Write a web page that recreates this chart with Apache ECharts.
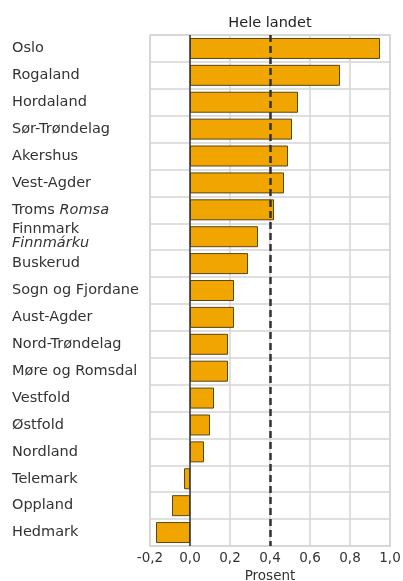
<!DOCTYPE html>
<html>
<head>
<meta charset="utf-8">
<script src="https://cdn.jsdelivr.net/npm/echarts@6/dist/echarts.min.js"></script>
<style>
html,body{margin:0;padding:0;background:#fff;}
#chart{width:403px;height:581px;}
</style>
</head>
<body>
<div id="chart"></div>
<script>
var categories = ["Oslo","Rogaland","Hordaland","Sør-Trøndelag","Akershus","Vest-Agder","Troms Romsa","Finnmark Finnmárku","Buskerud","Sogn og Fjordane","Aust-Agder","Nord-Trøndelag","Møre og Romsdal","Vestfold","Østfold","Nordland","Telemark","Oppland","Hedmark"];
var values = [0.95,0.75,0.54,0.51,0.49,0.47,0.42,0.34,0.29,0.22,0.22,0.19,0.19,0.12,0.10,0.07,-0.03,-0.09,-0.17];
var nationalValue = 0.4;
var nationalLabel = "Hele landet";
var axisName = "Prosent";

var labelMap = {
  "Troms Romsa": "Troms {i|Romsa}",
  "Finnmark Finnmárku": "Finnmark\n{i|Finnmárku}"
};

var chart = echarts.init(document.getElementById('chart'));
var font = "DejaVu Sans";
chart.setOption({
  animation: false,
  textStyle: {fontFamily: font},
  grid: {left: 150, right: 13, top: 35, bottom: 35, show: true, borderColor: '#d4d4d4', borderWidth: 1.5,
         containLabel: false, outerBoundsMode: 'none'},
  xAxis: {
    type: 'value', min: -0.2, max: 1.0, interval: 0.2,
    name: axisName, nameLocation: 'middle', nameGap: 19,
    nameTextStyle: {color: '#333', fontSize: 13.5, fontFamily: font},
    axisLine: {show: false}, axisTick: {show: false},
    axisLabel: {color: '#333', fontSize: 13.5, margin: 5, fontFamily: font,
      formatter: function (v) { return v.toFixed(1).replace('.', ','); }},
    splitLine: {show: true, lineStyle: {color: '#d4d4d4', width: 1.5}}
  },
  yAxis: {
    type: 'category', data: categories, inverse: true,
    axisLine: {show: false}, axisTick: {show: false},
    splitLine: {show: true, interval: 0, lineStyle: {color: '#d4d4d4', width: 1.5}},
    axisLabel: {
      align: 'left', margin: 138, color: '#333', fontSize: 14.5, fontFamily: font, lineHeight: 14,
      formatter: function (v) { return labelMap[v] || v; },
      rich: {i: {fontStyle: 'italic', fontSize: 14.5, color: '#333', fontFamily: font, lineHeight: 14}}
    }
  },
  series: [{
    type: 'bar', data: values, barCategoryGap: '22%',
    itemStyle: {color: '#F0A500', borderColor: '#5a4515', borderWidth: 1},
    markLine: {
      silent: true, symbol: 'none',
      data: [
        {xAxis: 0, lineStyle: {color: '#333', width: 1.5, type: 'solid'}, label: {show: false}},
        {xAxis: nationalValue, lineStyle: {color: '#333', width: 2.5, type: [7, 4]},
         label: {show: true, position: 'start', formatter: nationalLabel, color: '#222', fontSize: 14.5, fontFamily: font, distance: 4}}
      ]
    }
  }]
});
</script>
</body>
</html>
